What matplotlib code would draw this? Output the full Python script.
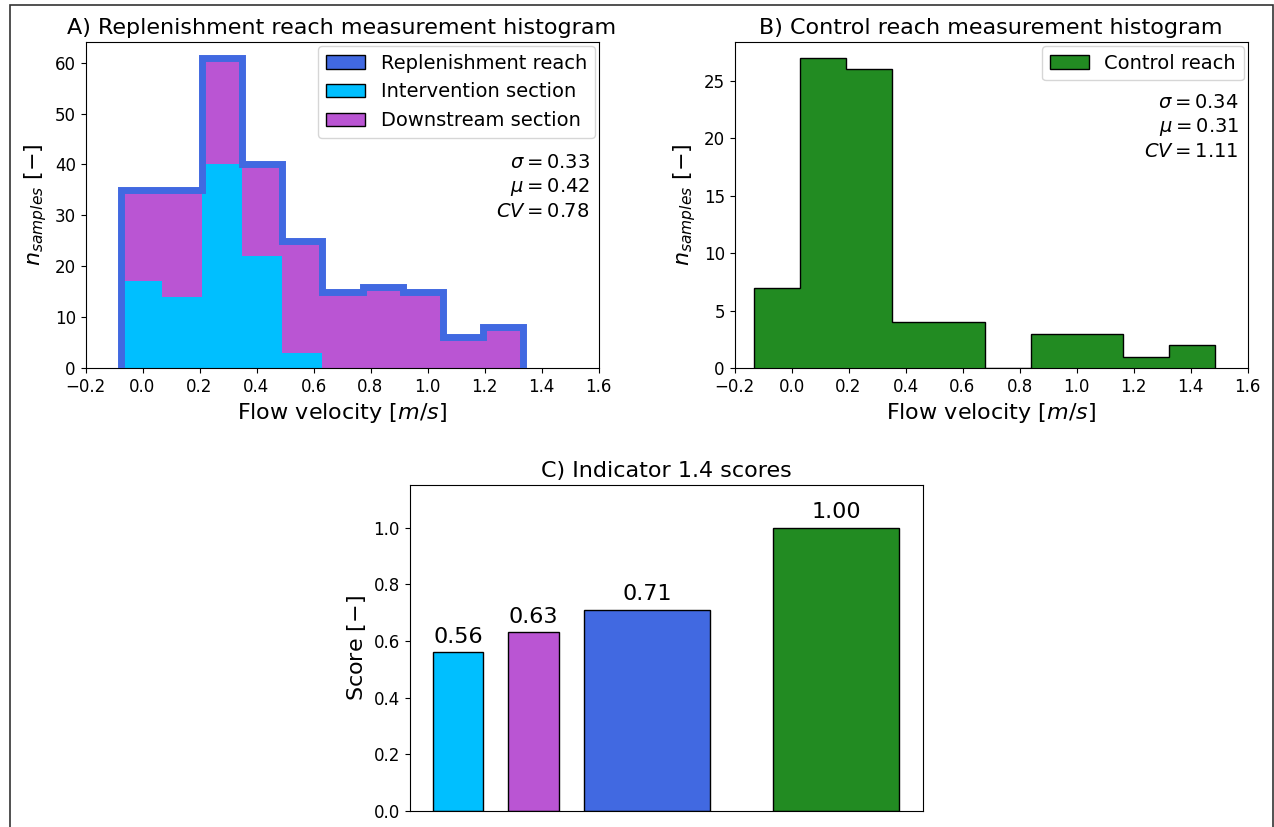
import numpy as np
import matplotlib.pyplot as plt
from matplotlib.patches import Patch, Rectangle

# replenishment reach: 10 bins between min and max velocity
rep_edges = np.linspace(-0.074, 1.336, 11)
intervention_counts = np.array([17, 14, 40, 22, 3, 0, 0, 0, 0, 0])
downstream_counts = np.array([18, 21, 21, 18, 22, 15, 16, 15, 6, 8])
rep_stats = {'sigma': 0.33, 'mu': 0.42, 'cv': 0.78}

# control reach
ctrl_edges = np.linspace(-0.131, 1.486, 11)
control_counts = np.array([7, 27, 26, 4, 4, 0, 3, 3, 1, 2])
ctrl_stats = {'sigma': 0.34, 'mu': 0.31, 'cv': 1.11}

# indicator scores
score_names = ['Intervention section', 'Downstream section', 'Replenishment reach', 'Control reach']
score_values = [0.56, 0.63, 0.71, 1.00]
score_colors = ['deepskyblue', 'mediumorchid', 'royalblue', 'forestgreen']
bar_pos = [0.0, 0.6, 1.5, 3.0]
bar_width = [0.4, 0.4, 1.0, 1.0]


def stats_text(ax, st, y):
    txt = (r'$\sigma = %.2f$' % st['sigma'] + '\n'
           + r'$\mu = %.2f$' % st['mu'] + '\n'
           + r'$CV = %.2f$' % st['cv'])
    ax.text(0.983, y, txt, transform=ax.transAxes, ha='right', va='center',
            fontsize=14, linespacing=1.25)


fig = plt.figure(figsize=(12.74, 8.27), dpi=100)
W, H = 1274, 827


def axes_px(left, right, top, bottom):
    return fig.add_axes([left / W, 1 - bottom / H, (right - left) / W, (bottom - top) / H])


ax_a = axes_px(85.5, 598.5, 42, 368)
ax_b = axes_px(734.5, 1247.5, 42, 368)
ax_c = axes_px(409.5, 922.5, 485, 811)

# A) replenishment reach
total_counts = intervention_counts + downstream_counts
ax_a.stairs(intervention_counts, rep_edges, fill=True, color='deepskyblue', zorder=2)
ax_a.stairs(total_counts, rep_edges, baseline=intervention_counts, fill=True,
            color='mediumorchid', zorder=2)
ax_a.stairs(total_counts, rep_edges, color='royalblue', linewidth=5, zorder=3)
ax_a.set_xlim(-0.2, 1.6)
ax_a.set_ylim(0, total_counts.max() * 1.05)
ax_a.set_title('A) Replenishment reach measurement histogram', fontsize=16)
ax_a.set_xlabel(r'Flow velocity $[m/s]$', fontsize=16)
ax_a.set_ylabel(r'$n_{samples}$ $[-]$', fontsize=16)
ax_a.legend(handles=[Patch(facecolor='royalblue', edgecolor='k', label='Replenishment reach'),
                     Patch(facecolor='deepskyblue', edgecolor='k', label='Intervention section'),
                     Patch(facecolor='mediumorchid', edgecolor='k', label='Downstream section')],
            loc='upper right', fontsize=14, borderaxespad=0.2)
stats_text(ax_a, rep_stats, 0.555)

# B) control reach
ax_b.stairs(control_counts, ctrl_edges, fill=True, facecolor='forestgreen',
            edgecolor='k', linewidth=1)
ax_b.set_xlim(-0.2, 1.6)
ax_b.set_ylim(0, control_counts.max() * 1.05)
ax_b.set_title('B) Control reach measurement histogram', fontsize=16)
ax_b.set_xlabel(r'Flow velocity $[m/s]$', fontsize=16)
ax_b.set_ylabel(r'$n_{samples}$ $[-]$', fontsize=16)
ax_b.legend(handles=[Patch(facecolor='forestgreen', edgecolor='k', label='Control reach')],
            loc='upper right', fontsize=14, borderaxespad=0.2)
stats_text(ax_b, ctrl_stats, 0.74)

# C) scores
bars = ax_c.bar(bar_pos, score_values, width=bar_width, color=score_colors, edgecolor='k')
for b, v in zip(bars, score_values):
    ax_c.text(b.get_x() + b.get_width() / 2, v + 0.02, '%.2f' % v,
              ha='center', va='bottom', fontsize=16)
ax_c.set_ylim(0, 1.15)
ax_c.set_xticks([])
ax_c.set_title('C) Indicator 1.4 scores', fontsize=16)
ax_c.set_ylabel(r'Score $[-]$', fontsize=16)

for ax in (ax_a, ax_b, ax_c):
    ax.tick_params(labelsize=12)

# outer frame
fig.patches.append(Rectangle((9.5 / W, -0.05), (1272.5 - 9.5) / W, 1.05 - 4.5 / H,
                             transform=fig.transFigure, fill=False,
                             edgecolor='#333333', linewidth=1.2))

fig.savefig('out.png', dpi=100)
